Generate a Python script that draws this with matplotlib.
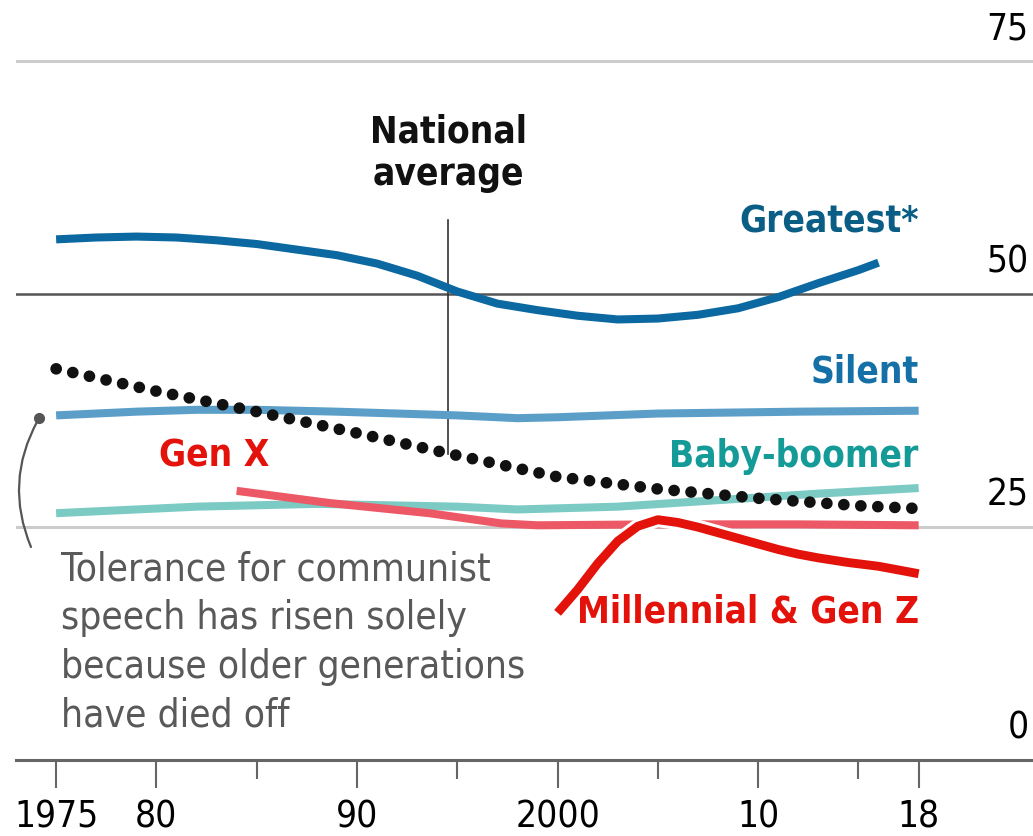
import matplotlib
matplotlib.use("Agg")
import matplotlib.pyplot as plt
import matplotlib.patheffects as pe
import matplotlib.transforms as mtransforms
from matplotlib import font_manager

# data (share tolerating communist speech, %)
greatest_years = [1975, 1977, 1979, 1981, 1983, 1985, 1987, 1989, 1991, 1993, 1995, 1997, 1999,
                  2001, 2003, 2005, 2007, 2009, 2011, 2013, 2015, 2016]
greatest_vals = [55.9, 56.1, 56.2, 56.1, 55.8, 55.4, 54.8, 54.2, 53.3, 52.0, 50.3, 49.0, 48.3,
                 47.7, 47.3, 47.4, 47.8, 48.5, 49.7, 51.2, 52.6, 53.4]

silent_years = [1975, 1979, 1982, 1985, 1989, 1992, 1995, 1998, 2000, 2005, 2012, 2018]
silent_vals = [37.0, 37.4, 37.6, 37.6, 37.4, 37.2, 37.0, 36.7, 36.8, 37.2, 37.4, 37.5]

boomer_years = [1975, 1982, 1988, 1995, 1998, 2003, 2008, 2013, 2018]
boomer_vals = [26.5, 27.2, 27.5, 27.2, 26.9, 27.2, 27.9, 28.6, 29.2]

genx_years = [1984, 1988.6, 1993.6, 1997.2, 1999, 2005, 2012, 2018]
genx_vals = [28.9, 27.6, 26.5, 25.4, 25.2, 25.3, 25.3, 25.2]

mill_years = [2000, 2001, 2002, 2003, 2004, 2005, 2006, 2007, 2008, 2009, 2010, 2011, 2012, 2013,
              2014.5, 2016, 2018]
mill_vals = [15.8, 18.3, 21.1, 23.5, 25.1, 25.8, 25.5, 25.0, 24.4, 23.8, 23.2, 22.6, 22.1, 21.7,
             21.2, 20.8, 20.0]

avg_years = [1975, 1980, 1985, 1990, 1995, 2000, 2005, 2010, 2015, 2018]
avg_vals = [42.0, 39.6, 37.4, 35.1, 32.7, 30.4, 29.1, 28.1, 27.3, 27.0]

major_ticks = [1975, 1980, 1990, 2000, 2010, 2018]
major_labels = ["1975", "80", "90", "2000", "10", "18"]
minor_ticks = [1985, 1995, 2005, 2015]
y_ticks = [0, 25, 50, 75]

fonts = font_manager.fontManager.ttflist
names = {f.name for f in fonts}
if "Liberation Sans Narrow" in names:
    plt.rcParams["font.family"] = ["Liberation Sans Narrow", "DejaVu Sans"]
    scale = 1.0
elif any(f.name == "DejaVu Sans" and "ondensed" in str(f.stretch) or "Condensed" in f.fname for f in fonts):
    plt.rcParams["font.family"] = ["DejaVu Sans"]
    plt.rcParams["font.stretch"] = "condensed"
    scale = 0.95
else:
    plt.rcParams["font.family"] = ["DejaVu Sans"]
    scale = 0.85

fig = plt.figure(figsize=(10.33, 8.36), dpi=100)
ax = fig.add_axes([16 / 1033, 76 / 836, 1 - 16 / 1033, 760 / 836])
ax.set_xlim(1973.0, 2023.7)
ax.set_ylim(0, 81.6)

# grid lines
for v in y_ticks[1:]:
    if v == 50:
        ax.axhline(v, color="#555555", lw=1.8, zorder=1)
    else:
        ax.axhline(v, color="#cccccc", lw=2.2, zorder=1)

lw = 5.8
common = dict(lw=lw, solid_capstyle="butt", solid_joinstyle="round")
ax.plot(greatest_years, greatest_vals, color="#0b68a0", zorder=4, **common)
ax.plot(silent_years, silent_vals, color="#5b9fc9", zorder=3, **common)
ax.plot(boomer_years, boomer_vals, color="#7ccac4", zorder=3, **common)
ax.plot(genx_years, genx_vals, color="#ec5866", zorder=3.5, **common)
ax.plot(mill_years, mill_vals, color="#e3120b", lw=lw + 0.6, solid_capstyle="butt", solid_joinstyle="round",
        zorder=6, path_effects=[pe.Stroke(linewidth=lw + 5, foreground="white"), pe.Normal()])
ax.plot(avg_years, avg_vals, color="#111111", lw=8.4, linestyle=(0, (0.01, 1.45)),
        dash_capstyle="round", zorder=5)

fs = 28 * scale
# national average pointer
ax.plot([1994.55, 1994.55], [58.0, 32.9], color="#333333", lw=1.2, zorder=2)
ax.text(1994.55, 69.4, "National\naverage", ha="center", va="top", fontsize=fs,
        fontweight="bold", color="#111111", linespacing=1.2)

# series labels
ax.text(2018, 56.6, "Greatest*", ha="right", va="baseline", fontsize=fs, fontweight="bold", color="#0a5e85")
ax.text(2018, 40.5, "Silent", ha="right", va="baseline", fontsize=fs, fontweight="bold", color="#1670a8")
ax.text(2018, 31.5, "Baby-boomer", ha="right", va="baseline", fontsize=fs, fontweight="bold", color="#149b98")
ax.text(1982.9, 31.5, "Gen X", ha="center", va="baseline", fontsize=fs, fontweight="bold", color="#e3120b")
ax.text(2018, 14.8, "Millennial & Gen Z", ha="right", va="baseline", fontsize=fs, fontweight="bold", color="#e3120b")

# annotation
ax.annotate("", xy=(1974.15, 36.7), xytext=(1973.8, 22.6),
            arrowprops=dict(arrowstyle="-", connectionstyle="arc3,rad=-0.25", color="#555555", lw=1.6))
ax.plot([1974.15], [36.7], "o", color="#555555", ms=7, zorder=6)
ax.text(1975.25, 22.5, "Tolerance for communist\nspeech has risen solely\nbecause older generations\nhave died off",
        ha="left", va="top", fontsize=fs * 1.05, color="#595959", linespacing=1.36)

# axes styling
for s in ["top", "left", "right"]:
    ax.spines[s].set_visible(False)
ax.spines["bottom"].set_color("#666666")
ax.spines["bottom"].set_linewidth(2.2)

ax.set_xticks(major_ticks)
ax.set_xticklabels(major_labels)
ax.set_xticks(minor_ticks, minor=True)
ax.tick_params(axis="x", which="major", length=20, width=1.5, color="#666666", labelsize=fs, pad=8)
ax.tick_params(axis="x", which="minor", length=14, width=1.5, color="#666666")

ax.yaxis.tick_right()
ax.set_yticks(y_ticks)
ax.tick_params(axis="y", length=0, labelsize=fs, pad=-3)
offset = mtransforms.ScaledTranslation(0, 10 / 72, fig.dpi_scale_trans)
for lab in ax.get_yticklabels():
    lab.set_horizontalalignment("right")
    lab.set_verticalalignment("bottom")
    lab.set_transform(lab.get_transform() + offset)

fig.savefig("out.png", dpi=100)
